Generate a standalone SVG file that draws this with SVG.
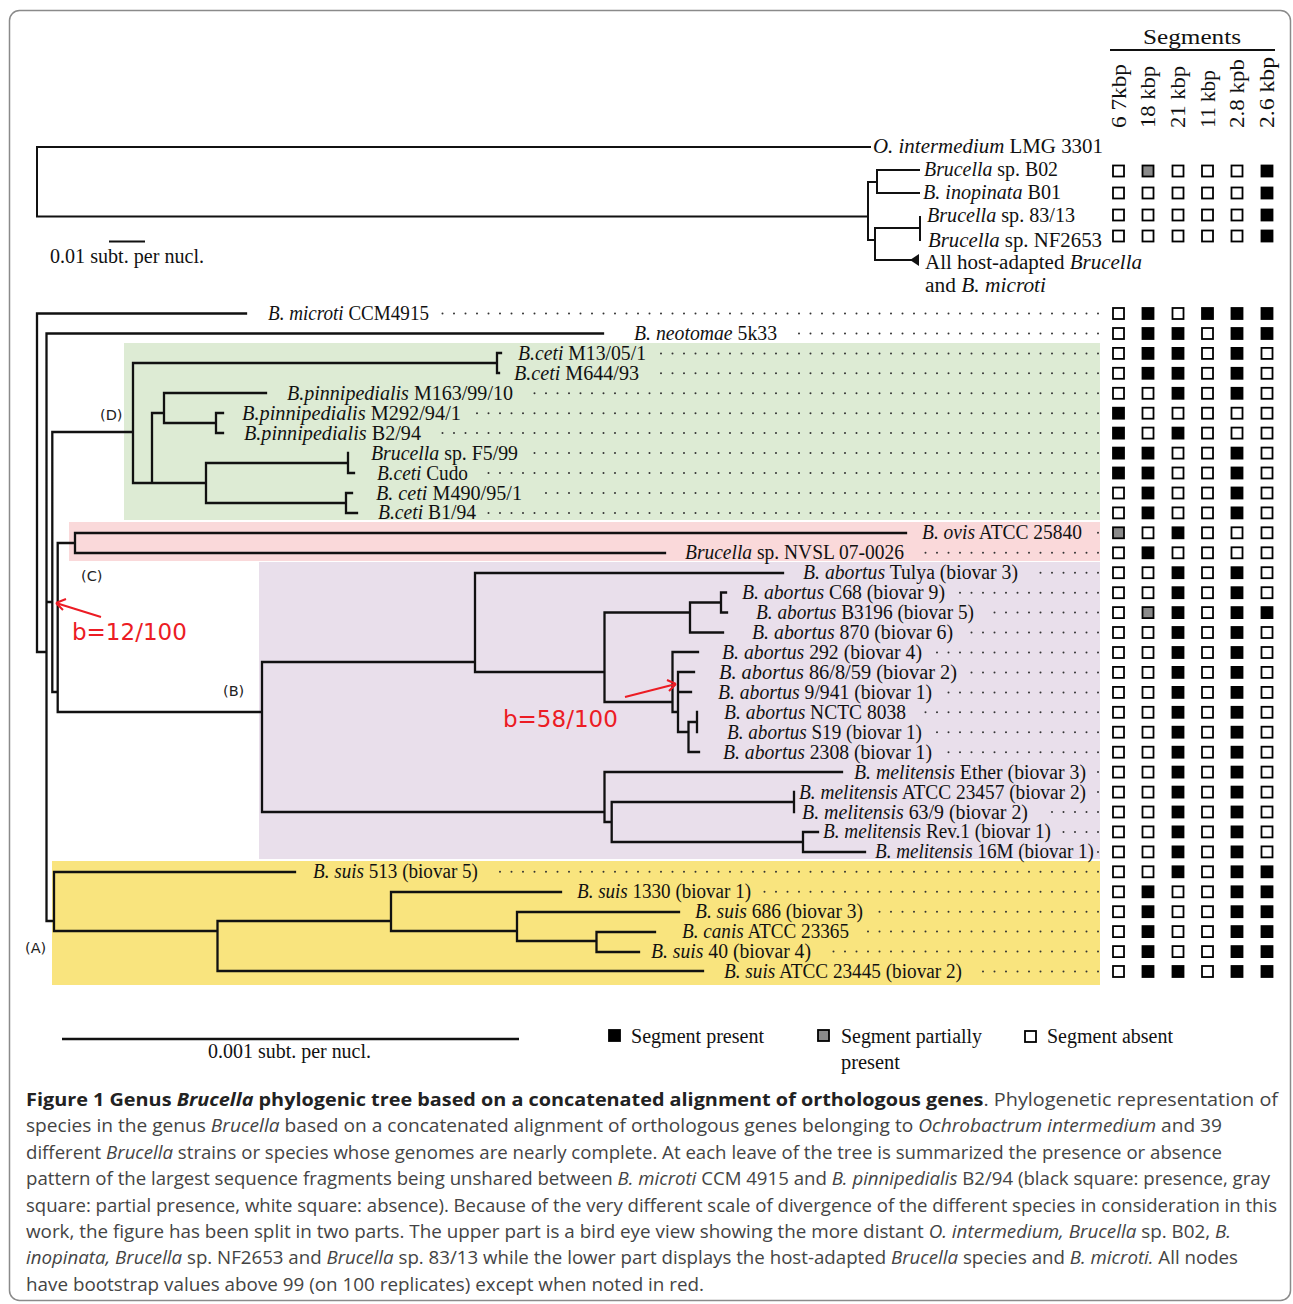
<svg xmlns="http://www.w3.org/2000/svg" xmlns:xlink="http://www.w3.org/1999/xlink" width="1293" height="1304" viewBox="0 0 1293 1304">
<style>
.lb{font-family:"Liberation Serif","Times New Roman",serif;font-size:20px;fill:#111}
.i{font-style:italic}
.br{stroke:#111;stroke-width:2.3;fill:none;stroke-linecap:square}
.br2{stroke:#111;stroke-width:2;fill:none;stroke-linecap:square}
.dot{stroke:#333;stroke-width:2;stroke-dasharray:0 11.5;stroke-linecap:round;fill:none}
.cl{font-family:"DejaVu Sans",sans-serif;font-size:14.5px;fill:#222}
.red{font-family:"DejaVu Sans",sans-serif;font-size:23px;fill:#ec1c24}
.cap{font-family:"Open Sans","Noto Sans",sans-serif;font-size:17.5px;fill:#444}
</style>
<defs>
<rect id="sw" x="-5.5" y="-5.5" width="11" height="11" fill="#fff" stroke="#000" stroke-width="1.8"/>
<rect id="sb" x="-5.5" y="-5.5" width="11" height="11" fill="#000" stroke="#000" stroke-width="1.8"/>
<rect id="sg" x="-5.5" y="-5.5" width="11" height="11" fill="#8a8a8a" stroke="#000" stroke-width="1.8"/>
</defs>
<rect x="9.5" y="10.5" width="1281" height="1290" rx="10" fill="#fff" stroke="#8a8a8a" stroke-width="1.5"/>

<!-- clade backgrounds -->
<g id="bg">
<rect x="124" y="343" width="976" height="177" fill="#ddebd4"/>
<rect x="69" y="522" width="1031" height="39" fill="#fad9da"/>
<rect x="259" y="562" width="841" height="297" fill="#e9dfeb"/>
<rect x="52" y="861" width="1048" height="124" fill="#f9e47e"/>
</g>

<!-- header -->
<g id="header">
<text class="lb" x="1143" y="44" font-size="22" textLength="98" lengthAdjust="spacingAndGlyphs">Segments</text>
<line x1="1110" y1="50" x2="1275" y2="50" stroke="#111" stroke-width="1.8"/>
<text class="lb" font-size="20" transform="translate(1125.5,128) rotate(-90)" textLength="64" lengthAdjust="spacingAndGlyphs">6 7kbp</text>
<text class="lb" font-size="20" transform="translate(1155,128) rotate(-90)" textLength="62" lengthAdjust="spacingAndGlyphs">18 kbp</text>
<text class="lb" font-size="20" transform="translate(1185,128) rotate(-90)" textLength="62" lengthAdjust="spacingAndGlyphs">21 kbp</text>
<text class="lb" font-size="20" transform="translate(1214.5,128) rotate(-90)" textLength="58" lengthAdjust="spacingAndGlyphs">11 kbp</text>
<text class="lb" font-size="20" transform="translate(1244,128) rotate(-90)" textLength="69" lengthAdjust="spacingAndGlyphs">2.8 kpb</text>
<text class="lb" font-size="20" transform="translate(1274,128) rotate(-90)" textLength="71" lengthAdjust="spacingAndGlyphs">2.6 kbp</text>
</g>

<!-- connectors -->
<g id="connectors">
<path class="br2" d="M870,147 H37 V216.5 H868 M868,182 V240 M868,182 H877 M877,170 V193 M877,170 H919 M877,193 H919 M868,240 H875 M875,228 V260 M875,228 H920 M920,217 V240 M875,260 H911"/>
<polygon points="910,260 919,254 919,266" fill="#111"/>
<line x1="109" y1="241.5" x2="145" y2="241.5" stroke="#111" stroke-width="2"/>
<path class="br" d="M246,313.5 H37 V652 H46.5 M603,333.5 H46.5 V921 H54
M46.5,602 H52.3 M52.3,432 V692 M52.3,432 H133 M52.3,692 H57.7
M57.7,543 V712 M57.7,543 H75 M75,533 V553 M75,533 H906 M75,553 H665 M57.7,712 H262
M133,363 V483 M133,363 H497 M497,353 V373 M497,353 H501 M497,373 H499
M133,483 H152 M152,413 V483 M152,413 H164 M164,393 V423 M164,393 H266 M164,423 H216 M216,413 V433 M216,413 H223 M216,433 H223
M152,483 H206 M206,463 V503 M206,463 H348 M348,453 V473 M348,473 H354 M206,503 H346 M346,493 V513 M346,493 H352 M346,513 H357
M54,872 V931 M54,872 H295 M54,931 H217.5 M217.5,921 V971 M217.5,921 H391 M391,892 V931 M391,892 H561 M391,931 H517 M517,912 V941 M517,912 H679 M517,941 H596.5 M596.5,932 V952 M596.5,932 H655 M596.5,952 H639 M217.5,971 H703
M262,662 V812 M262,662 H475 M475,573 V672 M475,573 H783 M475,672 H604.5 M604.5,612.5 V702 M604.5,612.5 H690 M690,602.5 V632.5 M690,602.5 H721 M721,592.5 V612.5 M721,592.5 H726 M721,612.5 H727 M690,632.5 H723
M604.5,702 H672.5 M672.5,652 V712 M672.5,652 H698 M672.5,712 H678 M678,672 V732 M678,672 H694 M678,692 H691 M678,732 H688.5 M688.5,722 V752 M688.5,722 H697 M697,712 V732 M688.5,752 H699
M262,812 H604.5 M604.5,772 V822 M604.5,772 H842 M604.5,822 H611.7 M611.7,802 V842 M611.7,802 H794 M794,792 V812 M611.7,842 H803 M803,832 V852 M803,832 H818 M803,852 H865"/>
<line x1="62" y1="1039" x2="519" y2="1039" stroke="#111" stroke-width="2.5"/>
<!-- dotted leaders -->
<g class="dot">
<line x1="1098" y1="313.5" x2="442" y2="313.5"/>
<line x1="1098" y1="333.5" x2="790" y2="333.5"/>
<line x1="1098" y1="353.4" x2="659" y2="353.4"/>
<line x1="1098" y1="373.3" x2="652" y2="373.3"/>
<line x1="1098" y1="393.3" x2="526" y2="393.3"/>
<line x1="1098" y1="413.2" x2="474" y2="413.2"/>
<line x1="1098" y1="433.1" x2="434" y2="433.1"/>
<line x1="1098" y1="453.1" x2="531" y2="453.1"/>
<line x1="1098" y1="473" x2="481" y2="473"/>
<line x1="1098" y1="493" x2="535" y2="493"/>
<line x1="1098" y1="512.9" x2="484" y2="512.9"/>
<line x1="1098" y1="532.8" x2="1095" y2="532.8"/>
<line x1="1098" y1="552.8" x2="917" y2="552.8"/>
<line x1="1098" y1="572.7" x2="1031" y2="572.7"/>
<line x1="1098" y1="592.7" x2="958" y2="592.7"/>
<line x1="1098" y1="612.6" x2="987" y2="612.6"/>
<line x1="1098" y1="632.5" x2="966" y2="632.5"/>
<line x1="1098" y1="652.5" x2="935" y2="652.5"/>
<line x1="1098" y1="672.4" x2="970" y2="672.4"/>
<line x1="1098" y1="692.4" x2="945" y2="692.4"/>
<line x1="1098" y1="712.3" x2="919" y2="712.3"/>
<line x1="1098" y1="732.2" x2="935" y2="732.2"/>
<line x1="1098" y1="752.2" x2="945" y2="752.2"/>
<line x1="1098" y1="772.1" x2="1095" y2="772.1"/>
<line x1="1098" y1="792.1" x2="1095" y2="792.1"/>
<line x1="1098" y1="812" x2="1041" y2="812"/>
<line x1="1098" y1="831.9" x2="1058" y2="831.9"/>
<line x1="1098" y1="851.9" x2="1097" y2="851.9"/>
<line x1="1098" y1="871.8" x2="491" y2="871.8"/>
<line x1="1098" y1="891.8" x2="764" y2="891.8"/>
<line x1="1098" y1="911.7" x2="870" y2="911.7"/>
<line x1="1098" y1="931.6" x2="862" y2="931.6"/>
<line x1="1098" y1="951.6" x2="824" y2="951.6"/>
<line x1="1098" y1="971.5" x2="975" y2="971.5"/>
</g>
<!-- red bootstrap arrows -->
<g stroke="#ec1c24" stroke-width="2" fill="none">
<path d="M101,617 L56,603 M56,603 L66,599 M56,603 L63,610"/>
<path d="M625,697 L676,684 M676,684 L667,680 M676,684 L669,691"/>
</g>
</g>

<!-- upper tree leaves -->
<g id="u-ointermedium"><text class="lb" x="873" y="153" textLength="230" lengthAdjust="spacingAndGlyphs"><tspan class="i">O. intermedium</tspan> LMG 3301</text></g>
<g id="u-b02"><text class="lb" x="924" y="176" textLength="134" lengthAdjust="spacingAndGlyphs"><tspan class="i">Brucella</tspan> sp. B02</text></g>
<g id="u-b01"><text class="lb" x="923" y="199" textLength="138" lengthAdjust="spacingAndGlyphs"><tspan class="i">B. inopinata</tspan> B01</text></g>
<g id="u-8313"><text class="lb" x="927" y="222" textLength="148" lengthAdjust="spacingAndGlyphs"><tspan class="i">Brucella</tspan> sp. 83/13</text></g>
<g id="u-nf2653"><text class="lb" x="928" y="247" textLength="174" lengthAdjust="spacingAndGlyphs"><tspan class="i">Brucella</tspan> sp. NF2653</text></g>
<g id="u-hostadapted"><text class="lb" x="925" y="269" textLength="217" lengthAdjust="spacingAndGlyphs">All host-adapted <tspan class="i">Brucella</tspan></text>
<text class="lb" x="925" y="292" textLength="121" lengthAdjust="spacingAndGlyphs">and <tspan class="i">B. microti</tspan></text></g>
<g id="scale-upper"><text class="lb" x="50" y="263" textLength="154" lengthAdjust="spacingAndGlyphs">0.01 subt. per nucl.</text></g>

<!-- lower tree leaves -->
<g id="n-microti"><text class="lb" x="268" y="320" textLength="161" lengthAdjust="spacingAndGlyphs"><tspan class="i">B. microti</tspan> CCM4915</text></g>
<g id="n-neotomae"><text class="lb" x="634" y="340" textLength="143" lengthAdjust="spacingAndGlyphs"><tspan class="i">B. neotomae</tspan> 5k33</text></g>
<g id="n-m13"><text class="lb" x="518" y="359.9" textLength="128" lengthAdjust="spacingAndGlyphs"><tspan class="i">B.ceti</tspan> M13/05/1</text></g>
<g id="n-m644"><text class="lb" x="514" y="379.8" textLength="125" lengthAdjust="spacingAndGlyphs"><tspan class="i">B.ceti</tspan> M644/93</text></g>
<g id="n-m163"><text class="lb" x="287" y="399.8" textLength="226" lengthAdjust="spacingAndGlyphs"><tspan class="i">B.pinnipedialis</tspan> M163/99/10</text></g>
<g id="n-m292"><text class="lb" x="242" y="419.7" textLength="219" lengthAdjust="spacingAndGlyphs"><tspan class="i">B.pinnipedialis</tspan> M292/94/1</text></g>
<g id="n-b294"><text class="lb" x="244" y="439.6" textLength="177" lengthAdjust="spacingAndGlyphs"><tspan class="i">B.pinnipedialis</tspan> B2/94</text></g>
<g id="n-f599"><text class="lb" x="371" y="459.6" textLength="147" lengthAdjust="spacingAndGlyphs"><tspan class="i">Brucella</tspan> sp. F5/99</text></g>
<g id="n-cudo"><text class="lb" x="377" y="479.5" textLength="91" lengthAdjust="spacingAndGlyphs"><tspan class="i">B.ceti</tspan> Cudo</text></g>
<g id="n-m490"><text class="lb" x="376" y="499.5" textLength="146" lengthAdjust="spacingAndGlyphs"><tspan class="i">B. ceti</tspan> M490/95/1</text></g>
<g id="n-b194"><text class="lb" x="378" y="519.4" textLength="98" lengthAdjust="spacingAndGlyphs"><tspan class="i">B.ceti</tspan> B1/94</text></g>
<g id="n-ovis"><text class="lb" x="922" y="539.3" textLength="160" lengthAdjust="spacingAndGlyphs"><tspan class="i">B. ovis</tspan> ATCC 25840</text></g>
<g id="n-nvsl"><text class="lb" x="685" y="559.3" textLength="219" lengthAdjust="spacingAndGlyphs"><tspan class="i">Brucella</tspan> sp. NVSL 07-0026</text></g>
<g id="n-tulya"><text class="lb" x="803" y="579.2" textLength="215" lengthAdjust="spacingAndGlyphs"><tspan class="i">B. abortus</tspan> Tulya (biovar 3)</text></g>
<g id="n-c68"><text class="lb" x="742" y="599.2" textLength="203" lengthAdjust="spacingAndGlyphs"><tspan class="i">B. abortus</tspan> C68 (biovar 9)</text></g>
<g id="n-b3196"><text class="lb" x="756" y="619.1" textLength="218" lengthAdjust="spacingAndGlyphs"><tspan class="i">B. abortus</tspan> B3196 (biovar 5)</text></g>
<g id="n-870"><text class="lb" x="752" y="639" textLength="201" lengthAdjust="spacingAndGlyphs"><tspan class="i">B. abortus</tspan> 870 (biovar 6)</text></g>
<g id="n-292"><text class="lb" x="722" y="659" textLength="200" lengthAdjust="spacingAndGlyphs"><tspan class="i">B. abortus</tspan> 292 (biovar 4)</text></g>
<g id="n-86859"><text class="lb" x="719" y="678.9" textLength="238" lengthAdjust="spacingAndGlyphs"><tspan class="i">B. abortus</tspan> 86/8/59 (biovar 2)</text></g>
<g id="n-9941"><text class="lb" x="718" y="698.9" textLength="214" lengthAdjust="spacingAndGlyphs"><tspan class="i">B. abortus</tspan> 9/941 (biovar 1)</text></g>
<g id="n-nctc"><text class="lb" x="724" y="718.8" textLength="182" lengthAdjust="spacingAndGlyphs"><tspan class="i">B. abortus</tspan> NCTC 8038</text></g>
<g id="n-s19"><text class="lb" x="727" y="738.7" textLength="195" lengthAdjust="spacingAndGlyphs"><tspan class="i">B. abortus</tspan> S19 (biovar 1)</text></g>
<g id="n-2308"><text class="lb" x="723" y="758.7" textLength="209" lengthAdjust="spacingAndGlyphs"><tspan class="i">B. abortus</tspan> 2308 (biovar 1)</text></g>
<g id="n-ether"><text class="lb" x="854" y="778.6" textLength="232" lengthAdjust="spacingAndGlyphs"><tspan class="i">B. melitensis</tspan> Ether (biovar 3)</text></g>
<g id="n-23457"><text class="lb" x="799" y="798.6" textLength="287" lengthAdjust="spacingAndGlyphs"><tspan class="i">B. melitensis</tspan> ATCC 23457 (biovar 2)</text></g>
<g id="n-639"><text class="lb" x="802" y="818.5" textLength="226" lengthAdjust="spacingAndGlyphs"><tspan class="i">B. melitensis</tspan> 63/9 (biovar 2)</text></g>
<g id="n-rev1"><text class="lb" x="823" y="838.4" textLength="228" lengthAdjust="spacingAndGlyphs"><tspan class="i">B. melitensis</tspan> Rev.1 (biovar 1)</text></g>
<g id="n-16m"><text class="lb" x="875" y="858.4" textLength="219" lengthAdjust="spacingAndGlyphs"><tspan class="i">B. melitensis</tspan> 16M (biovar 1)</text></g>
<g id="n-suis513"><text class="lb" x="313" y="878.3" textLength="165" lengthAdjust="spacingAndGlyphs"><tspan class="i">B. suis</tspan> 513 (biovar 5)</text></g>
<g id="n-suis1330"><text class="lb" x="577" y="898.3" textLength="174" lengthAdjust="spacingAndGlyphs"><tspan class="i">B. suis</tspan> 1330 (biovar 1)</text></g>
<g id="n-suis686"><text class="lb" x="695" y="918.2" textLength="168" lengthAdjust="spacingAndGlyphs"><tspan class="i">B. suis</tspan> 686 (biovar 3)</text></g>
<g id="n-canis"><text class="lb" x="682" y="938.1" textLength="167" lengthAdjust="spacingAndGlyphs"><tspan class="i">B. canis</tspan> ATCC 23365</text></g>
<g id="n-suis40"><text class="lb" x="651" y="958.1" textLength="160" lengthAdjust="spacingAndGlyphs"><tspan class="i">B. suis</tspan> 40 (biovar 4)</text></g>
<g id="n-suis23445"><text class="lb" x="724" y="978" textLength="238" lengthAdjust="spacingAndGlyphs"><tspan class="i">B. suis</tspan> ATCC 23445 (biovar 2)</text></g>

<!-- clade labels and bootstrap -->
<g id="clade-labels">
<text class="cl" x="100" y="420">(D)</text>
<text class="cl" x="81" y="581">(C)</text>
<text class="cl" x="223" y="696">(B)</text>
<text class="cl" x="25" y="953">(A)</text>
<text class="red" x="72" y="639.5">b=12/100</text>
<text class="red" x="503" y="726.5">b=58/100</text>
</g>

<!-- presence squares -->
<g id="squares">
<g transform="translate(0,171)"><use href="#sw" x="1118.5"/><use href="#sg" x="1148"/><use href="#sw" x="1178"/><use href="#sw" x="1207.5"/><use href="#sw" x="1237"/><use href="#sb" x="1267"/></g>
<g transform="translate(0,193)"><use href="#sw" x="1118.5"/><use href="#sw" x="1148"/><use href="#sw" x="1178"/><use href="#sw" x="1207.5"/><use href="#sw" x="1237"/><use href="#sb" x="1267"/></g>
<g transform="translate(0,215)"><use href="#sw" x="1118.5"/><use href="#sw" x="1148"/><use href="#sw" x="1178"/><use href="#sw" x="1207.5"/><use href="#sw" x="1237"/><use href="#sb" x="1267"/></g>
<g transform="translate(0,236)"><use href="#sw" x="1118.5"/><use href="#sw" x="1148"/><use href="#sw" x="1178"/><use href="#sw" x="1207.5"/><use href="#sw" x="1237"/><use href="#sb" x="1267"/></g>

<g transform="translate(0,313.5)"><use href="#sw" x="1118.5"/><use href="#sb" x="1148"/><use href="#sw" x="1178"/><use href="#sb" x="1207.5"/><use href="#sb" x="1237"/><use href="#sb" x="1267"/></g>
<g transform="translate(0,333.5)"><use href="#sw" x="1118.5"/><use href="#sb" x="1148"/><use href="#sb" x="1178"/><use href="#sw" x="1207.5"/><use href="#sb" x="1237"/><use href="#sb" x="1267"/></g>
<g transform="translate(0,353.4)"><use href="#sw" x="1118.5"/><use href="#sb" x="1148"/><use href="#sb" x="1178"/><use href="#sw" x="1207.5"/><use href="#sb" x="1237"/><use href="#sw" x="1267"/></g>
<g transform="translate(0,373.3)"><use href="#sw" x="1118.5"/><use href="#sb" x="1148"/><use href="#sb" x="1178"/><use href="#sw" x="1207.5"/><use href="#sb" x="1237"/><use href="#sw" x="1267"/></g>
<g transform="translate(0,393.3)"><use href="#sw" x="1118.5"/><use href="#sw" x="1148"/><use href="#sb" x="1178"/><use href="#sw" x="1207.5"/><use href="#sb" x="1237"/><use href="#sw" x="1267"/></g>
<g transform="translate(0,413.2)"><use href="#sb" x="1118.5"/><use href="#sw" x="1148"/><use href="#sw" x="1178"/><use href="#sw" x="1207.5"/><use href="#sw" x="1237"/><use href="#sw" x="1267"/></g>
<g transform="translate(0,433.1)"><use href="#sb" x="1118.5"/><use href="#sw" x="1148"/><use href="#sb" x="1178"/><use href="#sw" x="1207.5"/><use href="#sw" x="1237"/><use href="#sw" x="1267"/></g>
<g transform="translate(0,453.1)"><use href="#sb" x="1118.5"/><use href="#sb" x="1148"/><use href="#sw" x="1178"/><use href="#sw" x="1207.5"/><use href="#sb" x="1237"/><use href="#sw" x="1267"/></g>
<g transform="translate(0,473)"><use href="#sb" x="1118.5"/><use href="#sb" x="1148"/><use href="#sw" x="1178"/><use href="#sw" x="1207.5"/><use href="#sb" x="1237"/><use href="#sw" x="1267"/></g>
<g transform="translate(0,493)"><use href="#sw" x="1118.5"/><use href="#sb" x="1148"/><use href="#sw" x="1178"/><use href="#sw" x="1207.5"/><use href="#sb" x="1237"/><use href="#sw" x="1267"/></g>
<g transform="translate(0,512.9)"><use href="#sw" x="1118.5"/><use href="#sb" x="1148"/><use href="#sw" x="1178"/><use href="#sw" x="1207.5"/><use href="#sb" x="1237"/><use href="#sw" x="1267"/></g>
<g transform="translate(0,532.8)"><use href="#sg" x="1118.5"/><use href="#sw" x="1148"/><use href="#sb" x="1178"/><use href="#sw" x="1207.5"/><use href="#sw" x="1237"/><use href="#sw" x="1267"/></g>
<g transform="translate(0,552.8)"><use href="#sw" x="1118.5"/><use href="#sb" x="1148"/><use href="#sw" x="1178"/><use href="#sw" x="1207.5"/><use href="#sw" x="1237"/><use href="#sw" x="1267"/></g>
<g transform="translate(0,572.7)"><use href="#sw" x="1118.5"/><use href="#sw" x="1148"/><use href="#sb" x="1178"/><use href="#sw" x="1207.5"/><use href="#sb" x="1237"/><use href="#sw" x="1267"/></g>
<g transform="translate(0,592.7)"><use href="#sw" x="1118.5"/><use href="#sw" x="1148"/><use href="#sb" x="1178"/><use href="#sw" x="1207.5"/><use href="#sb" x="1237"/><use href="#sw" x="1267"/></g>
<g transform="translate(0,612.6)"><use href="#sw" x="1118.5"/><use href="#sg" x="1148"/><use href="#sb" x="1178"/><use href="#sw" x="1207.5"/><use href="#sb" x="1237"/><use href="#sb" x="1267"/></g>
<g transform="translate(0,632.5)"><use href="#sw" x="1118.5"/><use href="#sw" x="1148"/><use href="#sb" x="1178"/><use href="#sw" x="1207.5"/><use href="#sb" x="1237"/><use href="#sw" x="1267"/></g>
<g transform="translate(0,652.5)"><use href="#sw" x="1118.5"/><use href="#sw" x="1148"/><use href="#sb" x="1178"/><use href="#sw" x="1207.5"/><use href="#sb" x="1237"/><use href="#sw" x="1267"/></g>
<g transform="translate(0,672.4)"><use href="#sw" x="1118.5"/><use href="#sw" x="1148"/><use href="#sb" x="1178"/><use href="#sw" x="1207.5"/><use href="#sb" x="1237"/><use href="#sw" x="1267"/></g>
<g transform="translate(0,692.4)"><use href="#sw" x="1118.5"/><use href="#sw" x="1148"/><use href="#sb" x="1178"/><use href="#sw" x="1207.5"/><use href="#sb" x="1237"/><use href="#sw" x="1267"/></g>
<g transform="translate(0,712.3)"><use href="#sw" x="1118.5"/><use href="#sw" x="1148"/><use href="#sb" x="1178"/><use href="#sw" x="1207.5"/><use href="#sb" x="1237"/><use href="#sw" x="1267"/></g>
<g transform="translate(0,732.2)"><use href="#sw" x="1118.5"/><use href="#sw" x="1148"/><use href="#sb" x="1178"/><use href="#sw" x="1207.5"/><use href="#sb" x="1237"/><use href="#sw" x="1267"/></g>
<g transform="translate(0,752.2)"><use href="#sw" x="1118.5"/><use href="#sw" x="1148"/><use href="#sb" x="1178"/><use href="#sw" x="1207.5"/><use href="#sb" x="1237"/><use href="#sw" x="1267"/></g>
<g transform="translate(0,772.1)"><use href="#sw" x="1118.5"/><use href="#sw" x="1148"/><use href="#sb" x="1178"/><use href="#sw" x="1207.5"/><use href="#sb" x="1237"/><use href="#sw" x="1267"/></g>
<g transform="translate(0,792.1)"><use href="#sw" x="1118.5"/><use href="#sw" x="1148"/><use href="#sb" x="1178"/><use href="#sw" x="1207.5"/><use href="#sb" x="1237"/><use href="#sw" x="1267"/></g>
<g transform="translate(0,812)"><use href="#sw" x="1118.5"/><use href="#sw" x="1148"/><use href="#sb" x="1178"/><use href="#sw" x="1207.5"/><use href="#sb" x="1237"/><use href="#sw" x="1267"/></g>
<g transform="translate(0,831.9)"><use href="#sw" x="1118.5"/><use href="#sw" x="1148"/><use href="#sb" x="1178"/><use href="#sw" x="1207.5"/><use href="#sb" x="1237"/><use href="#sw" x="1267"/></g>
<g transform="translate(0,851.9)"><use href="#sw" x="1118.5"/><use href="#sw" x="1148"/><use href="#sb" x="1178"/><use href="#sw" x="1207.5"/><use href="#sb" x="1237"/><use href="#sw" x="1267"/></g>
<g transform="translate(0,871.8)"><use href="#sw" x="1118.5"/><use href="#sw" x="1148"/><use href="#sb" x="1178"/><use href="#sw" x="1207.5"/><use href="#sb" x="1237"/><use href="#sb" x="1267"/></g>
<g transform="translate(0,891.8)"><use href="#sw" x="1118.5"/><use href="#sb" x="1148"/><use href="#sw" x="1178"/><use href="#sw" x="1207.5"/><use href="#sb" x="1237"/><use href="#sb" x="1267"/></g>
<g transform="translate(0,911.7)"><use href="#sw" x="1118.5"/><use href="#sb" x="1148"/><use href="#sw" x="1178"/><use href="#sw" x="1207.5"/><use href="#sb" x="1237"/><use href="#sb" x="1267"/></g>
<g transform="translate(0,931.6)"><use href="#sw" x="1118.5"/><use href="#sb" x="1148"/><use href="#sw" x="1178"/><use href="#sw" x="1207.5"/><use href="#sb" x="1237"/><use href="#sb" x="1267"/></g>
<g transform="translate(0,951.6)"><use href="#sw" x="1118.5"/><use href="#sb" x="1148"/><use href="#sw" x="1178"/><use href="#sw" x="1207.5"/><use href="#sb" x="1237"/><use href="#sb" x="1267"/></g>
<g transform="translate(0,971.5)"><use href="#sw" x="1118.5"/><use href="#sb" x="1148"/><use href="#sb" x="1178"/><use href="#sw" x="1207.5"/><use href="#sb" x="1237"/><use href="#sb" x="1267"/></g>
</g>

<!-- scale bar and legend -->
<g id="scale-lower"><text class="lb" x="208" y="1058" textLength="163" lengthAdjust="spacingAndGlyphs">0.001 subt. per nucl.</text></g>
<g id="legend">
<use href="#sb" x="614.5" y="1035.5"/>
<text class="lb" x="631" y="1043" textLength="133" lengthAdjust="spacingAndGlyphs">Segment present</text>
<use href="#sg" x="823.5" y="1035.5"/>
<text class="lb" x="841" y="1043" textLength="141" lengthAdjust="spacingAndGlyphs">Segment partially</text>
<text class="lb" x="841" y="1069" textLength="59" lengthAdjust="spacingAndGlyphs">present</text>
<use href="#sw" x="1030.5" y="1036.5"/>
<text class="lb" x="1047" y="1043" textLength="126" lengthAdjust="spacingAndGlyphs">Segment absent</text>
</g>

<!-- caption -->
<g id="caption" class="cap">
<text x="26" y="1106" textLength="1252" lengthAdjust="spacingAndGlyphs"><tspan font-weight="bold" fill="#222">Figure 1 Genus <tspan font-style="italic">Brucella</tspan> phylogenic tree based on a concatenated alignment of orthologous genes</tspan>. Phylogenetic representation of</text>
<text x="26" y="1132.4" textLength="1196" lengthAdjust="spacingAndGlyphs">species in the genus <tspan class="i">Brucella</tspan> based on a concatenated alignment of orthologous genes belonging to <tspan class="i">Ochrobactrum intermedium</tspan> and 39</text>
<text x="26" y="1158.8" textLength="1196" lengthAdjust="spacingAndGlyphs">different <tspan class="i">Brucella</tspan> strains or species whose genomes are nearly complete. At each leave of the tree is summarized the presence or absence</text>
<text x="26" y="1185.2" textLength="1244" lengthAdjust="spacingAndGlyphs">pattern of the largest sequence fragments being unshared between <tspan class="i">B. microti</tspan> CCM 4915 and <tspan class="i">B. pinnipedialis</tspan> B2/94 (black square: presence, gray</text>
<text x="26" y="1211.6" textLength="1251" lengthAdjust="spacingAndGlyphs">square: partial presence, white square: absence). Because of the very different scale of divergence of the different species in consideration in this</text>
<text x="26" y="1238" textLength="1205" lengthAdjust="spacingAndGlyphs">work, the figure has been split in two parts. The upper part is a bird eye view showing the more distant <tspan class="i">O. intermedium, Brucella</tspan> sp. B02, <tspan class="i">B.</tspan></text>
<text x="26" y="1264.4" textLength="1212" lengthAdjust="spacingAndGlyphs"><tspan class="i">inopinata, Brucella</tspan> sp. NF2653 and <tspan class="i">Brucella</tspan> sp. 83/13 while the lower part displays the host-adapted <tspan class="i">Brucella</tspan> species and <tspan class="i">B. microti.</tspan> All nodes</text>
<text x="26" y="1290.8" textLength="678" lengthAdjust="spacingAndGlyphs">have bootstrap values above 99 (on 100 replicates) except when noted in red.</text>
</g>
</svg>
